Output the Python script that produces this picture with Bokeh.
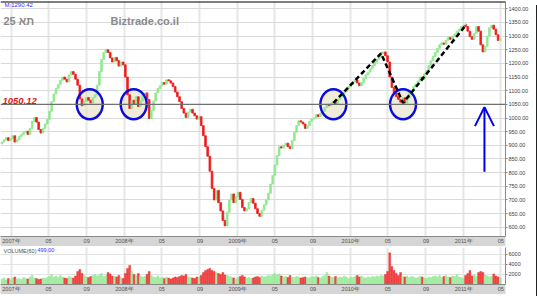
import pandas as pd
from bokeh.plotting import figure
from bokeh.models import (Range1d, FixedTicker, Span, Label, Arrow, OpenHead,
                          ColumnDataSource, Div, NumeralTickFormatter)
from bokeh.layouts import column, row
from bokeh.embed import file_html
from bokeh.resources import INLINE

# ---------------- data (weekly) ----------------
first_open = 905
close_2006 = [912, 920, 928, 918, 925]
close_2007 = [935, 912, 920, 932,
              940, 948, 952, 940,
              962, 988, 1002, 985, 958,
              945, 962, 978, 995,
              1025, 1060, 1088, 1108,
              1122, 1138, 1150, 1142, 1132,
              1158, 1170, 1160, 1142,
              1120, 1070, 1045, 1060, 1075,
              1065, 1055, 1075, 1085,
              1120, 1170, 1215, 1240,
              1250, 1240, 1220, 1205, 1222,
              1210, 1190, 1205, 1195]
close_2008 = [1150, 1085, 1035, 1065,
              1050, 1078, 1042, 1062, 1085,
              1092, 1068, 998, 1028,
              1062, 1092, 1108, 1118,
              1130, 1124, 1140, 1136, 1128,
              1115, 1095, 1078, 1060,
              1035, 1018, 1002, 1022,
              1032, 1018, 1008, 996, 1005,
              972, 935, 895, 860,
              805, 742, 700, 735, 690,
              660, 625, 605, 655,
              700, 722, 690, 712]
close_2009 = [728, 702, 672, 660, 668,
              690, 705, 688, 668,
              650, 640, 662, 682,
              700, 725, 758, 790,
              828, 862, 895, 890, 900,
              908, 895, 888, 918,
              948, 972, 990, 985, 978,
              962, 972, 988, 996,
              1000, 1012, 1005, 1018,
              1025, 1038, 1050, 1045, 1055,
              1062, 1052, 1068, 1078,
              1088, 1096, 1106, 1115]
close_2010 = [1122, 1132, 1140, 1128, 1118,
              1130, 1145, 1158, 1168,
              1180, 1192, 1204, 1215,
              1222, 1236, 1242, 1228, 1205,
              1150, 1112, 1090, 1078,
              1068, 1058, 1074, 1055,
              1072, 1088, 1102, 1115, 1125,
              1135, 1150, 1142, 1162,
              1175, 1192, 1210, 1225,
              1240, 1255, 1268, 1275, 1270,
              1285, 1295, 1288, 1300,
              1308, 1318, 1325, 1335, 1340]
close_2011 = [1335, 1318, 1298, 1288,
              1310, 1335, 1318, 1268,
              1242, 1262, 1300, 1330,
              1340, 1325, 1305, 1284, 1290.42]

vol_2006 = [1100, 1300, 900, 1200, 1000]
vol_2007 = [1300, 1500, 1100, 1200,
            1000, 1400, 1200, 1100,
            1500, 1800, 1300, 1200, 1000,
            1100, 1300, 1200, 1400,
            1600, 2000, 1500, 1700,
            1400, 1800, 1500, 1300, 1200,
            1600, 1400, 1300, 1700,
            2600, 3000, 2200, 1800, 1500,
            1400, 1600, 1800, 2000,
            1700, 1900, 2200, 1600,
            1800, 2400, 2100, 1700, 1600,
            1500, 1800, 1400, 1200]
vol_2008 = [2200, 3200, 3800, 2600,
            2000, 1800, 2200, 1700, 1500,
            1600, 2000, 2600, 1800,
            1500, 1400, 1700, 1300,
            1400, 1200, 1500, 1300, 1100,
            1300, 1500, 1400, 1600,
            1800, 1700, 2000, 1500,
            1400, 1300, 1200, 1500, 1400,
            1800, 2400, 2800, 3000,
            3200, 2800, 2600, 2400, 2200,
            2000, 2400, 1900, 1800,
            1600, 1500, 1300, 1100]
vol_2009 = [1400, 1600, 1800, 1500, 1300,
            1400, 1200, 1300, 1500,
            1600, 1400, 1700, 1500,
            1600, 1800, 1700, 2000,
            2200, 1900, 2100, 1700, 1500,
            1600, 1400, 1800, 1500,
            1400, 1600, 1500, 1300, 1400,
            1500, 1300, 1400, 1600,
            1500, 1700, 1400, 1300,
            1600, 1800, 2400, 1700, 1500,
            1400, 1600, 1300, 1500,
            1400, 1700, 1500, 1200]
vol_2010 = [1500, 1400, 1600, 1800, 1500,
            1700, 1400, 1300, 1500,
            1400, 1600, 1500, 1700,
            1600, 1800, 1700, 2000, 2600,
            6300, 3600, 2800, 2200,
            1800, 2400, 1600, 1500,
            1700, 1400, 1600, 1500, 1300,
            1400, 1600, 1500, 1300,
            1200, 1500, 1400, 1600,
            1700, 1500, 1800, 1400, 1600,
            1800, 1500, 1400, 1700,
            1600, 2000, 1500, 1400, 1200]
vol_2011 = [1800, 2200, 2800, 1700,
            2000, 1600, 2400, 2600,
            2400, 1900, 1700, 1500,
            1600, 2100, 1700, 1500, 1400]

first_week = "2006-12-01"
index_name = "25 תא"
site_name = "Biztrade.co.il"
last_price = 1290.42
ref_level = 1050.12
last_volume = 499.00
price_ticks = list(range(600, 1401, 50))
vol_ticks = [2000, 4000, 6000]
tick_dates = ["2007-01-01", "2007-05-01", "2007-09-01",
              "2008-01-01", "2008-05-01", "2008-09-01",
              "2009-01-01", "2009-05-01", "2009-09-01",
              "2010-01-01", "2010-05-01", "2010-09-01",
              "2011-01-01", "2011-05-01"]
tick_labels = ["2007年", "05", "09", "2008年", "05", "09", "2009年", "05", "09",
               "2010年", "05", "09", "2011年", "05"]
circle_dates = ["2007-09-11", "2008-01-31", "2009-11-06", "2010-06-19"]
trend_dates = ["2009-11-06", "2010-04-09", "2010-06-19", "2011-01-10"]
trend_values = [1055, 1237, 1055, 1343]
arrow_date = "2011-03-09"
arrow_from = 803
arrow_to = 1040

# ---------------- preparation ----------------
base = pd.Timestamp("2007-01-01")
def to_day(d):
    return (pd.Timestamp(d) - base).days

close = close_2006 + close_2007 + close_2008 + close_2009 + close_2010 + close_2011
volume = vol_2006 + vol_2007 + vol_2008 + vol_2009 + vol_2010 + vol_2011
dates = pd.date_range(first_week, periods=len(close), freq="7D")
days = [to_day(d) for d in dates]
opens = [first_open] + close[:-1]
UP, DOWN = "#8fe88f", "#ee1c1c"
colors = [UP if c >= o else DOWN for o, c in zip(opens, close)]
src = ColumnDataSource(dict(
    x=days, top=[max(o, c) for o, c in zip(opens, close)],
    bottom=[min(o, c) for o, c in zip(opens, close)],
    vol=volume, color=colors))

tick_days = [to_day(d) for d in tick_dates]
overrides = {d: l for d, l in zip(tick_days, tick_labels)}
x_range = Range1d(-35.3, 1596)
FONT = "Liberation Sans"

def style_xaxis(fig):
    ax = fig.xaxis[0]
    ax.ticker = FixedTicker(ticks=tick_days)
    ax.major_label_overrides = overrides
    ax.major_tick_out = 0
    ax.major_tick_in = 0
    ax.minor_tick_out = 0
    ax.minor_tick_in = 0
    ax.major_label_standoff = 1
    ax.axis_line_color = "#8a8a8a"
    ax.major_label_text_font_size = "5.5px"
    ax.major_label_text_color = "#505050"
    ax.major_label_text_font = FONT
    ax.background_fill_color = "#d6d6d6"
    fig.xgrid.grid_line_color = "#e6e6e6"
    fig.xgrid.grid_line_width = 2

def style_yaxis(fig):
    ax = fig.yaxis[0]
    ax.major_tick_out = 2
    ax.major_tick_in = 0
    ax.minor_tick_out = 0
    ax.minor_tick_in = 0
    ax.major_label_standoff = 1
    ax.axis_line_color = "#8a8a8a"
    ax.major_tick_line_color = "#8a8a8a"
    ax.major_label_text_font_size = "5.5px"
    ax.major_label_text_color = "#404040"
    ax.major_label_text_font = FONT

# ---------------- main price panel ----------------
p = figure(width=531, height=246, x_range=x_range, y_range=Range1d(566.2, 1426.6),
           output_backend="svg", toolbar_location=None, y_axis_location="right",
           min_border_left=0, min_border_right=23, min_border_top=1, min_border_bottom=9)
p.outline_line_color = None
p.background_fill_color = "white"
p.border_fill_color = "white"
style_xaxis(p)
style_yaxis(p)
p.yaxis[0].ticker = FixedTicker(ticks=price_ticks)
p.yaxis[0].formatter = NumeralTickFormatter(format="0.00")
p.ygrid.ticker = FixedTicker(ticks=price_ticks)
p.ygrid.grid_line_color = "#dadada"

circle_days = [to_day(d) for d in circle_dates]
p.ellipse(x=circle_days, y=[ref_level] * len(circle_days), width=26, height=30,
          width_units="screen", height_units="screen",
          fill_color="#e4e0c0", fill_alpha=0.6, line_color=None)
p.add_layout(Span(location=ref_level, dimension="width", line_color="#707070", line_width=1.3))
p.vbar(x="x", width=5.5, top="top", bottom="bottom", source=src,
       fill_color="color", line_color="color", line_width=0.8)
p.ellipse(x=circle_days, y=[ref_level] * len(circle_days), width=26, height=30,
          width_units="screen", height_units="screen",
          fill_color=None, line_color="#0c0cdc", line_width=2.5)
p.line([to_day(d) for d in trend_dates], trend_values, line_color="black",
       line_width=2.5, line_dash="5 3")
head = OpenHead(size=19, line_color="#0000ee", line_width=2)
p.add_layout(Arrow(end=head, x_start=to_day(arrow_date), y_start=arrow_from,
                   x_end=to_day(arrow_date), y_end=arrow_to,
                   line_color="#0000ee", line_width=2))
p.add_layout(Span(location=1426.6, dimension="width", line_color="black", line_width=2))

p.add_layout(Label(x=x_range.start, y=1423, x_offset=4, text="M:%.2f" % last_price,
                   text_font_size="6px", text_color="#3232ff", text_baseline="top",
                   text_font=FONT))
p.add_layout(Label(x=x_range.start, y=1354, x_offset=3, text=index_name,
                   text_font_size="11px", text_font_style="bold", text_color="#8a8a8a",
                   text_baseline="alphabetic", text_font=FONT))
p.add_layout(Label(x=x_range.start, y=1354, x_offset=110, text=site_name,
                   text_font_size="11px", text_font_style="bold", text_color="#8a8a8a",
                   text_baseline="alphabetic", text_font=FONT))
p.add_layout(Label(x=x_range.start, y=ref_level, x_offset=2, text="%.2f" % ref_level,
                   text_font_size="9.5px", text_font_style="bold italic",
                   text_color="#e01818", text_baseline="bottom", text_font=FONT))
p.add_layout(Label(x=x_range.end, y=last_price, x_offset=1, text="%.2f" % last_price,
                   text_font_size="6px", text_color="white", text_baseline="middle",
                   background_fill_color="#0000ff", border_line_color="#0000ff",
                   text_font=FONT))

# ---------------- volume panel ----------------
v = figure(width=531, height=48, x_range=x_range, y_range=Range1d(0, 7355),
           output_backend="svg", toolbar_location=None, y_axis_location="right",
           min_border_left=0, min_border_right=23, min_border_top=1, min_border_bottom=9)
v.outline_line_color = None
style_xaxis(v)
style_yaxis(v)
v.yaxis[0].ticker = FixedTicker(ticks=vol_ticks)
v.yaxis[0].formatter = NumeralTickFormatter(format="0")
v.ygrid.ticker = FixedTicker(ticks=vol_ticks)
v.ygrid.grid_line_color = "#e4e4e4"
v.vbar(x="x", width=6, top="vol", bottom=0, source=src,
       fill_color="color", line_color="color", line_width=0.5, alpha=0.8)
v.add_layout(Label(x=x_range.start, y=7250, x_offset=3, text="VOLUME(60)",
                   text_font_size="5.5px", text_color="#505050", text_baseline="top",
                   text_font=FONT))
v.add_layout(Label(x=x_range.start, y=7250, x_offset=37, text="%.2f" % last_volume,
                   text_font_size="5.5px", text_color="#3232ff", text_baseline="top",
                   text_font=FONT))
v.add_layout(Label(x=x_range.end, y=300, x_offset=1, text="%d" % last_volume,
                   text_font_size="6px", text_color="white", text_baseline="top",
                   background_fill_color="#0000ff", border_line_color="#0000ff",
                   text_font=FONT))

edge = Div(width=6, height=294, styles={"background-color": "#9a9a9a",
                                        "border-left": "2px solid #222222",
                                        "box-sizing": "border-box"})
layout = row(column(p, v), edge)

open("out.html", "w").write(file_html(layout, INLINE))
